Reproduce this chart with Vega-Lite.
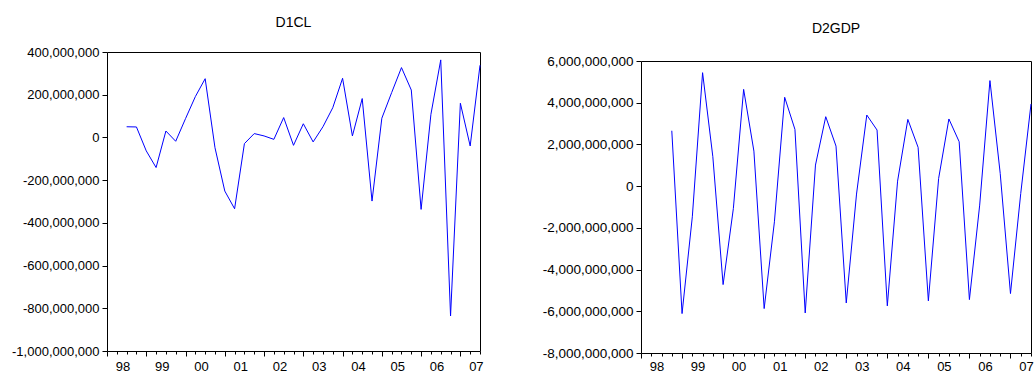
{
  "$schema": "https://vega.github.io/schema/vega-lite/v6.json",
  "background": "white",
  "padding": {"left": 11, "top": 15, "right": 2, "bottom": 2},
  "spacing": 45,
  "config": {
    "font": "Liberation Sans",
    "locale": {"number": {"decimal": ".", "thousands": ",", "grouping": [3], "currency": ["$", ""], "minus": "-"}},
    "view": {"stroke": "black", "strokeWidth": 1},
    "axis": {"domain": false, "grid": false, "tickColor": "black", "tickWidth": 1, "labelColor": "black", "labelFontSize": 13, "labelFont": "Liberation Sans", "title": null},
    "title": {"fontSize": 14, "fontWeight": "normal", "color": "black", "font": "Liberation Sans"}
  },
  "datasets": {
    "d1cl": [
      {"quarter": "1998Q3", "t": 2, "value": 50000000},
      {"quarter": "1998Q4", "t": 3, "value": 49000000},
      {"quarter": "1999Q1", "t": 4, "value": -63000000},
      {"quarter": "1999Q2", "t": 5, "value": -141000000},
      {"quarter": "1999Q3", "t": 6, "value": 30000000},
      {"quarter": "1999Q4", "t": 7, "value": -18000000},
      {"quarter": "2000Q1", "t": 8, "value": 88000000},
      {"quarter": "2000Q2", "t": 9, "value": 191000000},
      {"quarter": "2000Q3", "t": 10, "value": 275000000},
      {"quarter": "2000Q4", "t": 11, "value": -48000000},
      {"quarter": "2001Q1", "t": 12, "value": -251000000},
      {"quarter": "2001Q2", "t": 13, "value": -334000000},
      {"quarter": "2001Q3", "t": 14, "value": -29000000},
      {"quarter": "2001Q4", "t": 15, "value": 18000000},
      {"quarter": "2002Q1", "t": 16, "value": 7000000},
      {"quarter": "2002Q2", "t": 17, "value": -9000000},
      {"quarter": "2002Q3", "t": 18, "value": 93000000},
      {"quarter": "2002Q4", "t": 19, "value": -37000000},
      {"quarter": "2003Q1", "t": 20, "value": 64000000},
      {"quarter": "2003Q2", "t": 21, "value": -21000000},
      {"quarter": "2003Q3", "t": 22, "value": 50000000},
      {"quarter": "2003Q4", "t": 23, "value": 139000000},
      {"quarter": "2004Q1", "t": 24, "value": 277000000},
      {"quarter": "2004Q2", "t": 25, "value": 7000000},
      {"quarter": "2004Q3", "t": 26, "value": 182000000},
      {"quarter": "2004Q4", "t": 27, "value": -298000000},
      {"quarter": "2005Q1", "t": 28, "value": 90000000},
      {"quarter": "2005Q2", "t": 29, "value": 210000000},
      {"quarter": "2005Q3", "t": 30, "value": 327000000},
      {"quarter": "2005Q4", "t": 31, "value": 222000000},
      {"quarter": "2006Q1", "t": 32, "value": -337000000},
      {"quarter": "2006Q2", "t": 33, "value": 108000000},
      {"quarter": "2006Q3", "t": 34, "value": 363000000},
      {"quarter": "2006Q4", "t": 35, "value": -836000000},
      {"quarter": "2007Q1", "t": 36, "value": 160000000},
      {"quarter": "2007Q2", "t": 37, "value": -40000000},
      {"quarter": "2007Q3", "t": 38, "value": 338000000}
    ],
    "d2gdp": [
      {"quarter": "1998Q4", "t": 3, "value": 2656000000},
      {"quarter": "1999Q1", "t": 4, "value": -6110000000},
      {"quarter": "1999Q2", "t": 5, "value": -1470000000},
      {"quarter": "1999Q3", "t": 6, "value": 5440000000},
      {"quarter": "1999Q4", "t": 7, "value": 1410000000},
      {"quarter": "2000Q1", "t": 8, "value": -4720000000},
      {"quarter": "2000Q2", "t": 9, "value": -1070000000},
      {"quarter": "2000Q3", "t": 10, "value": 4640000000},
      {"quarter": "2000Q4", "t": 11, "value": 1680000000},
      {"quarter": "2001Q1", "t": 12, "value": -5870000000},
      {"quarter": "2001Q2", "t": 13, "value": -1710000000},
      {"quarter": "2001Q3", "t": 14, "value": 4260000000},
      {"quarter": "2001Q4", "t": 15, "value": 2720000000},
      {"quarter": "2002Q1", "t": 16, "value": -6080000000},
      {"quarter": "2002Q2", "t": 17, "value": 1010000000},
      {"quarter": "2002Q3", "t": 18, "value": 3330000000},
      {"quarter": "2002Q4", "t": 19, "value": 1920000000},
      {"quarter": "2003Q1", "t": 20, "value": -5600000000},
      {"quarter": "2003Q2", "t": 21, "value": -380000000},
      {"quarter": "2003Q3", "t": 22, "value": 3410000000},
      {"quarter": "2003Q4", "t": 23, "value": 2690000000},
      {"quarter": "2004Q1", "t": 24, "value": -5740000000},
      {"quarter": "2004Q2", "t": 25, "value": 240000000},
      {"quarter": "2004Q3", "t": 26, "value": 3200000000},
      {"quarter": "2004Q4", "t": 27, "value": 1860000000},
      {"quarter": "2005Q1", "t": 28, "value": -5500000000},
      {"quarter": "2005Q2", "t": 29, "value": 370000000},
      {"quarter": "2005Q3", "t": 30, "value": 3220000000},
      {"quarter": "2005Q4", "t": 31, "value": 2130000000},
      {"quarter": "2006Q1", "t": 32, "value": -5440000000},
      {"quarter": "2006Q2", "t": 33, "value": -910000000},
      {"quarter": "2006Q3", "t": 34, "value": 5060000000},
      {"quarter": "2006Q4", "t": 35, "value": 610000000},
      {"quarter": "2007Q1", "t": 36, "value": -5150000000},
      {"quarter": "2007Q2", "t": 37, "value": -350000000},
      {"quarter": "2007Q3", "t": 38, "value": 3940000000}
    ]
  },
  "hconcat": [
    {
      "title": {"text": "D1CL", "offset": 16},
      "width": 373,
      "height": 299,
      "data": {"name": "d1cl"},
      "mark": {"type": "line", "color": "#0000ff", "strokeWidth": 1},
      "encoding": {
        "x": {
          "field": "t", "type": "quantitative",
          "scale": {"domain": [0, 38], "nice": false, "zero": false},
          "axis": {
            "values": [0,1,2,3,4,5,6,7,8,9,10,11,12,13,14,15,16,17,18,19,20,21,22,23,24,25,26,27,28,29,30,31,32,33,34,35,36,37,38],
            "tickSize": {"condition": {"test": "datum.value % 4 === 0", "value": 5}, "value": 3},
            "labelExpr": "datum.value % 4 === 0 && datum.value < 38 ? slice('0' + ((98 + datum.value / 4) % 100), -2) : ''",
            "labelOffset": 15.5, "labelPadding": 4.5, "labelAlign": "center",
            "labelBound": false, "labelOverlap": false, "labelFlush": false
          }
        },
        "y": {
          "field": "value", "type": "quantitative",
          "scale": {"domain": [-1000000000, 400000000], "nice": false, "zero": false},
          "axis": {
            "values": [-1000000000, -800000000, -600000000, -400000000, -200000000, 0, 200000000, 400000000],
            "format": ",d", "tickSize": 5, "labelPadding": 3, "labelOverlap": false, "labelFlush": false
          }
        }
      }
    },
    {
      "spacing": 0,
      "vconcat": [
        {
          "width": 390,
          "height": 1,
          "title": {"text": "D2GDP", "offset": 16, "anchor": "middle"},
          "view": {"stroke": null},
          "data": {"values": []},
          "mark": "point"
        },
        {
          "width": 390,
          "height": 292,
          "data": {"name": "d2gdp"},
          "mark": {"type": "line", "color": "#0000ff", "strokeWidth": 1},
          "encoding": {
            "x": {
              "field": "t", "type": "quantitative",
              "scale": {"domain": [0, 38], "nice": false, "zero": false},
              "axis": {
                "values": [0,1,2,3,4,5,6,7,8,9,10,11,12,13,14,15,16,17,18,19,20,21,22,23,24,25,26,27,28,29,30,31,32,33,34,35,36,37,38],
                "tickSize": {"condition": {"test": "datum.value % 4 === 0", "value": 5}, "value": 3},
                "labelExpr": "datum.value % 4 === 0 && datum.value < 38 ? slice('0' + ((98 + datum.value / 4) % 100), -2) : ''",
                "labelOffset": 15.5, "labelPadding": 2.5, "labelAlign": "center", "labelFontSize": 13,
                "labelBound": false, "labelOverlap": false, "labelFlush": false
              }
            },
            "y": {
              "field": "value", "type": "quantitative",
              "scale": {"domain": [-8000000000, 6000000000], "nice": false, "zero": false},
              "axis": {
                "values": [-8000000000, -6000000000, -4000000000, -2000000000, 0, 2000000000, 4000000000, 6000000000],
                "format": ",d", "tickSize": 5, "labelPadding": 3, "labelFontSize": 13.5, "labelOverlap": false, "labelFlush": false
              }
            }
          }
        }
      ]
    }
  ]
}
